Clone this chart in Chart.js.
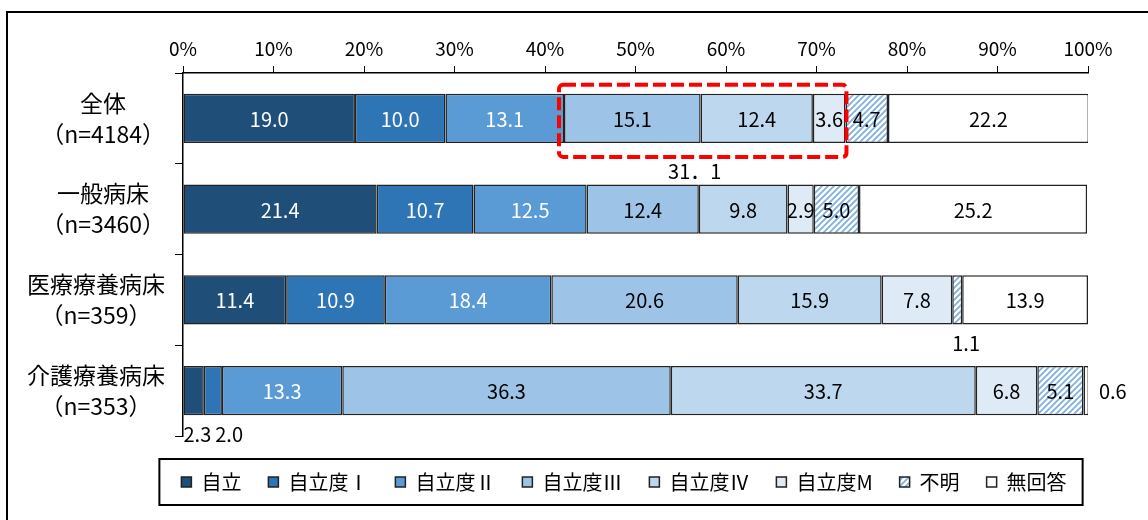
<!DOCTYPE html>
<html lang="ja">
<head>
<meta charset="utf-8">
<script src="https://cdn.jsdelivr.net/npm/chart.js@4.4.1/dist/chart.umd.min.js"></script>
<style>
  html, body { margin: 0; padding: 0; background: #fff; overflow: hidden; }
  #wrap { position: relative; width: 1148px; height: 520px; }
  #frame { position: absolute; left: 6px; top: 11px; width: 1200px; height: 600px; border: 2px solid #000; box-sizing: border-box; }
  #myChart { position: absolute; left: 0; top: 0; }
</style>
</head>
<body>
<div id="wrap">
  <div id="frame"></div>
  <canvas id="myChart" width="1148" height="520"></canvas>
</div>
<script>
// groups (two-line labels on the left)
const groupNames = ["全体", "一般病床", "医療療養病床", "介護療養病床"];
const groupCounts = ["（n=4184）", "（n=3460）", "（n=359）", "（n=353）"];

// series (percent)
const seriesNames = ["自立", "自立度Ⅰ", "自立度Ⅱ", "自立度Ⅲ", "自立度Ⅳ", "自立度M", "不明", "無回答"];
const jiritsu   = [19.0, 21.4, 11.4, 2.3];
const jiritsu1  = [10.0, 10.7, 10.9, 2.0];
const jiritsu2  = [13.1, 12.5, 18.4, 13.3];
const jiritsu3  = [15.1, 12.4, 20.6, 36.3];
const jiritsu4  = [12.4, 9.8, 15.9, 33.7];
const jiritsuM  = [3.6, 2.9, 7.8, 6.8];
const fumei     = [4.7, 5.0, 1.1, 5.1];
const mukaitou  = [22.2, 25.2, 13.9, 0.6];

// x tick values
const xTicks = [0, 10, 20, 30, 40, 50, 60, 70, 80, 90, 100];

// the bracketed part of 全体: 自立度Ⅲ..自立度M
const bracketRow = 0;
const bracketFrom = 3;
const bracketTo = 5;

const fam = '"Noto Sans CJK JP", "Noto Sans", sans-serif';
Chart.defaults.font.family = fam;
Chart.defaults.color = "#000";

const canvas = document.getElementById("myChart");
const ctx = canvas.getContext("2d");

function makeHatch() {
  const c = document.createElement("canvas");
  c.width = 6;
  c.height = 6;
  const g = c.getContext("2d");
  g.fillStyle = "#fff";
  g.fillRect(0, 0, 6, 6);
  g.strokeStyle = "#7DB0E0";
  g.lineWidth = 1.8;
  g.beginPath();
  g.moveTo(-1, 7); g.lineTo(7, -1);
  g.moveTo(-4, 4); g.lineTo(4, -4);
  g.moveTo(2, 10); g.lineTo(10, 2);
  g.stroke();
  return ctx.createPattern(c, "repeat");
}

const seriesData = [jiritsu, jiritsu1, jiritsu2, jiritsu3, jiritsu4, jiritsuM, fumei, mukaitou];
const fills = ["#1F4E79", "#2E75B6", "#5B9BD5", "#9DC3E6", "#BDD7EE", "#DEEBF7", makeHatch(), "#FFFFFF"];

// value labels: inside when wide enough, otherwise below (or to the right for the last one)
const barLabels = {
  id: "barLabels",
  afterDatasetsDraw(chart) {
    const c = chart.ctx;
    const n = chart.data.datasets.length;
    const cursor = {};
    c.save();
    c.font = "20px " + fam;
    c.textBaseline = "middle";
    chart.data.datasets.forEach((ds, d) => {
      const meta = chart.getDatasetMeta(d);
      meta.data.forEach((bar, i) => {
        const v = ds.data[i];
        const txt = v.toFixed(1);
        const w = c.measureText(txt).width;
        const left = Math.min(bar.x, bar.base);
        const right = Math.max(bar.x, bar.base);
        if (v >= 2.5) {
          c.fillStyle = d < 3 ? "#fff" : "#000";
          c.textAlign = "center";
          c.fillText(txt, (left + right) / 2, bar.y + 1);
        } else if (d === n - 1) {
          c.fillStyle = "#000";
          c.textAlign = "left";
          c.fillText(txt, right + 10, bar.y + 1);
        } else {
          const x = Math.max((left + right) / 2 - w / 2, left, cursor[i] || 0);
          c.fillStyle = "#000";
          c.textAlign = "left";
          c.fillText(txt, x, bar.y + bar.height / 2 + 19);
          cursor[i] = x + w + 4;
        }
      });
    });

    // red dashed bracket with its total underneath
    const a = chart.getDatasetMeta(bracketFrom).data[bracketRow];
    const b = chart.getDatasetMeta(bracketTo).data[bracketRow];
    const x0 = Math.min(a.x, a.base) - 5;
    const x1 = Math.max(b.x, b.base) + 1;
    const y0 = a.y - a.height / 2 - 9;
    const y1 = a.y + a.height / 2 + 14;
    c.strokeStyle = "#FF0000";
    c.lineWidth = 4;
    c.setLineDash([13, 5]);
    c.beginPath();
    c.roundRect(x0, y0, x1 - x0, y1 - y0, 4);
    c.stroke();
    c.setLineDash([]);
    let sum = 0;
    for (let k = bracketFrom; k <= bracketTo; k++) sum += seriesData[k][bracketRow];
    c.fillStyle = "#000";
    c.textAlign = "center";
    c.fillText(sum.toFixed(1).replace(".", "．"), (x0 + x1) / 2 - 8, y1 + 15);
    c.restore();
  },
  afterDraw(chart) {
    const c = chart.ctx;
    const yScale = chart.scales.y;
    c.save();
    // category labels, lines centred within each block
    c.font = "23px " + fam;
    c.fillStyle = "#000";
    c.textAlign = "center";
    c.textBaseline = "middle";
    groupNames.forEach((name, i) => {
      const lines = [name, groupCounts[i]];
      const maxW = Math.max(...lines.map(t => c.measureText(t).width));
      const cx = chart.chartArea.left - 18 - maxW / 2;
      const cy = yScale.getPixelForValue(i);
      lines.forEach((t, k) => c.fillText(t, cx, cy + (k - 0.5) * 31));
    });
    // frame round the legend
    const hb = chart.legend.legendHitBoxes;
    const last = hb[hb.length - 1];
    const cy = hb[0].top + hb[0].height / 2;
    const bx0 = hb[0].left - 22;
    const bx1 = last.left + last.width + 16;
    c.strokeStyle = "#000";
    c.lineWidth = 2;
    c.strokeRect(bx0, cy - 23, bx1 - bx0, 46);
    c.restore();
  }
};

new Chart(ctx, {
  type: "bar",
  data: {
    labels: groupNames,
    datasets: seriesNames.map((name, k) => ({
      label: name,
      data: seriesData[k],
      backgroundColor: fills[k],
      borderColor: "#222",
      borderWidth: 1.5,
      borderSkipped: false,
      barPercentage: 1,
      categoryPercentage: 0.54,
    })),
  },
  options: {
    indexAxis: "y",
    responsive: false,
    animation: false,
    layout: {
      padding: { top: 33, left: 149, right: 49, bottom: 18 },
    },
    plugins: {
      legend: {
        display: true,
        position: "bottom",
        labels: {
          color: "#000",
          font: { size: 20 },
          boxWidth: 10,
          boxHeight: 10,
          padding: 27,
        },
      },
      tooltip: { enabled: false },
    },
    scales: {
      x: {
        type: "linear",
        position: "top",
        stacked: true,
        min: 0,
        max: 100,
        afterBuildTicks: (s) => {
          s.ticks = xTicks.map((v) => ({ value: v }));
        },
        ticks: {
          color: "#000",
          font: { size: 19 },
          padding: 6,
          callback: (v) => v + "%",
        },
        grid: { drawOnChartArea: false, tickLength: 7, color: "#000", lineWidth: 1 },
        border: { color: "#000", width: 1.5 },
        afterFit: (s) => {
          s.height = 40;
        },
      },
      // spacer between the bars and the legend
      x2: {
        type: "linear",
        position: "bottom",
        display: true,
        ticks: { display: false },
        grid: { display: false },
        border: { display: false },
        afterFit: (s) => {
          s.height = 9;
        },
      },
      y: {
        type: "category",
        stacked: true,
        ticks: { display: false },
        grid: { drawOnChartArea: false, tickLength: 8, color: "#000", lineWidth: 1, offset: true },
        border: { color: "#000", width: 1.5 },
        afterFit: (s) => {
          s.width = 34;
        },
      },
      // right-hand spacer so the bars end at 100%
      y2: {
        type: "linear",
        position: "right",
        display: true,
        ticks: { display: false },
        grid: { display: false },
        border: { display: false },
        afterFit: (s) => {
          s.width = 11;
        },
      },
    },
  },
  plugins: [barLabels],
});
</script>
</body>
</html>
